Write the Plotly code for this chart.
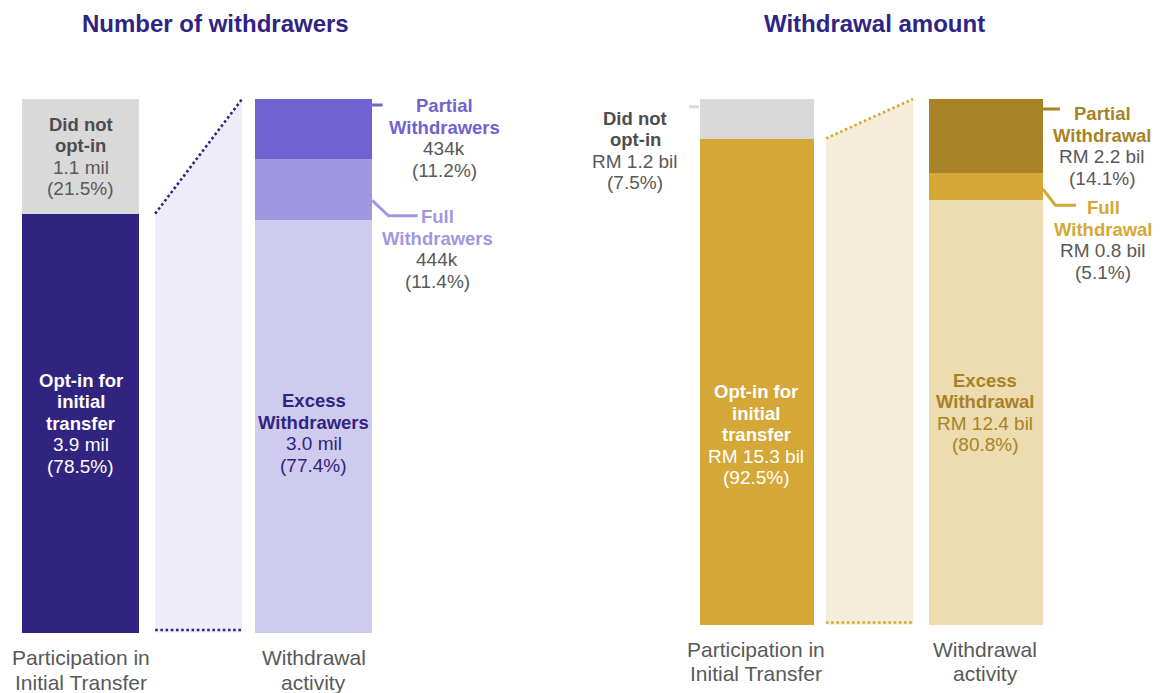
import plotly.graph_objects as go

# ---- data -------------------------------------------------------------
stage_labels = [["Participation in", "Initial Transfer"], ["Withdrawal", "activity"]]

# Number of withdrawers (% of total)
count_optin = 78.5
count_not_optin = 21.5
count_excess = 77.4
count_full = 11.4
count_partial = 11.2
count_text = {
    "not_optin": "1.1 mil", "optin": "3.9 mil",
    "excess": "3.0 mil", "full": "444k", "partial": "434k",
}

# Withdrawal amount (% of total)
amt_optin = 92.5
amt_not_optin = 7.5
amt_excess = 80.8
amt_full = 5.1
amt_partial = 14.1
amt_text = {
    "not_optin": "RM 1.2 bil", "optin": "RM 15.3 bil",
    "excess": "RM 12.4 bil", "full": "RM 0.8 bil", "partial": "RM 2.2 bil",
}

# ---- styling ------------------------------------------------------------
FONT = "Arial, 'Liberation Sans', sans-serif"
TITLE_C = "#2F2483"
GREY_TXT = "#595959"
GREY_BOLD = "#4D4D4D"
GREY_BAR = "#D9D9D9"
BOLD_SIZE = 18.5
VALUE_SIZE = 19

P_DARK, P_PART, P_FULL, P_EXC, P_CONN = "#312480", "#7163CF", "#9F98E0", "#CFCBEE", "#EEECF8"
G_MAIN, G_PART, G_FULL, G_EXC, G_CONN = "#D4A737", "#A88226", "#D4A737", "#EDDCAF", "#F5EDD8"

W, H = 1161, 693
fig = go.Figure()

# x positions: 0 = first bar, 2 = second bar, connector in between
BAR_X = [0, 2]


def bar(xa, ya, x, y, color):
    fig.add_trace(go.Bar(x=[x], y=[y], width=1, marker=dict(color=color, line=dict(width=0)),
                         xaxis=xa, yaxis=ya, showlegend=False, hoverinfo="skip"))


def connector(xa, ya, x0, x1, start, fill, dot):
    fig.add_trace(go.Scatter(x=[x0, x0, x1, x1, x0], y=[0, start, 100, 0, 0], fill="toself",
                             fillcolor=fill, line=dict(width=0), mode="lines",
                             xaxis=xa, yaxis=ya, showlegend=False, hoverinfo="skip"))
    for xs, ys in (([x0, x1], [start, 100]), ([x0, x1], [0.45, 0.45])):
        fig.add_trace(go.Scatter(x=xs, y=ys, mode="lines",
                                 line=dict(color=dot, width=2.6, dash="2.6px,2.6px"),
                                 xaxis=xa, yaxis=ya, showlegend=False, hoverinfo="skip"))


def label(xr, yr, x, y, lines, spacing=21.5):
    n = len(lines)
    for i, (txt, bold, color) in enumerate(lines):
        fig.add_annotation(x=x, y=y, xref=xr, yref=yr, showarrow=False,
                           text=f"<b>{txt}</b>" if bold else txt,
                           font=dict(family=FONT, size=BOLD_SIZE if bold else VALUE_SIZE,
                                     color=color),
                           xanchor="center", yanchor="middle",
                           yshift=((n - 1) / 2 - i) * spacing)


def leader(xa, ya, xs, ys, color):
    fig.add_trace(go.Scatter(x=xs, y=ys, mode="lines", line=dict(color=color, width=3),
                             xaxis=xa, yaxis=ya, showlegend=False, hoverinfo="skip"))


# ---- left panel: number of withdrawers ----------------------------------
bar("x", "y", BAR_X[0], count_optin, P_DARK)
bar("x", "y", BAR_X[0], count_not_optin, GREY_BAR)
bar("x", "y", BAR_X[1], count_excess, P_EXC)
bar("x", "y", BAR_X[1], count_full, P_FULL)
bar("x", "y", BAR_X[1], count_partial, P_PART)
connector("x", "y", 0.64, 1.385, count_optin, P_CONN, P_DARK)

leader("x", "y", [2.5, 2.59], [98.9, 98.9], P_PART)
leader("x", "y", [2.5, 2.64, 2.89], [81.0, 78.1, 78.1], P_FULL)

label("x", "y", BAR_X[0], count_optin + count_not_optin / 2,
      [("Did not", True, GREY_BOLD), ("opt-in", True, GREY_BOLD),
       (count_text["not_optin"], False, GREY_TXT), (f"({count_not_optin}%)", False, GREY_TXT)])
label("x", "y", BAR_X[0], count_optin / 2,
      [("Opt-in for", True, "white"), ("initial", True, "white"), ("transfer", True, "white"),
       (count_text["optin"], False, "white"), (f"({count_optin}%)", False, "white")])
label("x", "y", BAR_X[1], 37.4,
      [("Excess", True, P_DARK), ("Withdrawers", True, P_DARK),
       (count_text["excess"], False, P_DARK), (f"({count_excess}%)", False, P_DARK)])
label("x", "y", 3.12, 92.7,
      [("Partial", True, P_PART), ("Withdrawers", True, P_PART),
       (count_text["partial"], False, GREY_TXT), (f"({count_partial}%)", False, GREY_TXT)])
label("x", "y", 3.06, 71.9,
      [("Full", True, P_FULL), ("Withdrawers", True, P_FULL),
       (count_text["full"], False, GREY_TXT), (f"({count_full}%)", False, GREY_TXT)])

# ---- right panel: withdrawal amount --------------------------------------
bar("x2", "y2", BAR_X[0], amt_optin, G_MAIN)
bar("x2", "y2", BAR_X[0], amt_not_optin, GREY_BAR)
bar("x2", "y2", BAR_X[1], amt_excess, G_EXC)
bar("x2", "y2", BAR_X[1], amt_full, G_FULL)
bar("x2", "y2", BAR_X[1], amt_partial, G_PART)
connector("x2", "y2", 0.607, 1.367, amt_optin, G_CONN, G_MAIN)

leader("x2", "y2", [-0.59, -0.5], [98.5, 98.5], GREY_BAR)
leader("x2", "y2", [2.5, 2.65], [98.1, 98.1], G_PART)
leader("x2", "y2", [2.5, 2.61, 2.79], [82.9, 79.8, 79.8], G_FULL)

label("x2", "y2", -1.06, 90.2,
      [("Did not", True, GREY_BOLD), ("opt-in", True, GREY_BOLD),
       (amt_text["not_optin"], False, GREY_TXT), (f"({amt_not_optin}%)", False, GREY_TXT)])
label("x2", "y2", BAR_X[0], 36.1,
      [("Opt-in for", True, "white"), ("initial", True, "white"), ("transfer", True, "white"),
       (amt_text["optin"], False, "white"), (f"({amt_optin}%)", False, "white")])
label("x2", "y2", BAR_X[1], amt_excess / 2,
      [("Excess", True, G_PART), ("Withdrawal", True, G_PART),
       (amt_text["excess"], False, G_PART), (f"({amt_excess}%)", False, G_PART)])
label("x2", "y2", 3.02, 91.1,
      [("Partial", True, G_PART), ("Withdrawal", True, G_PART),
       (amt_text["partial"], False, GREY_TXT), (f"({amt_partial}%)", False, GREY_TXT)])
label("x2", "y2", 3.03, 73.2,
      [("Full", True, G_FULL), ("Withdrawal", True, G_FULL),
       (amt_text["full"], False, GREY_TXT), (f"({amt_full}%)", False, GREY_TXT)])

# ---- stage labels under the bars -----------------------------------------
for xr, yr, off in (("x", "y", 25.5), ("x2", "y2", 24.5)):
    for bx, lines in zip(BAR_X, stage_labels):
        for i, txt in enumerate(lines):
            fig.add_annotation(x=bx, y=0, xref=xr, yref=yr, showarrow=False, text=txt,
                               font=dict(family=FONT, size=21, color=GREY_TXT),
                               xanchor="center", yanchor="middle", yshift=-(off + 24.5 * i))

# ---- panel titles ---------------------------------------------------------
for x, txt in ((0.1856, "Number of withdrawers"), (0.7532, "Withdrawal amount")):
    fig.add_annotation(x=x, y=1 - 23 / H, xref="paper", yref="paper", showarrow=False,
                       text=f"<b>{txt}</b>", font=dict(family=FONT, size=24, color=TITLE_C),
                       xanchor="center", yanchor="middle")

axis_off = dict(visible=False, showgrid=False, zeroline=False, fixedrange=True)
fig.update_layout(
    width=W, height=H, margin=dict(l=0, r=0, t=0, b=0),
    paper_bgcolor="white", plot_bgcolor="rgba(0,0,0,0)",
    barmode="stack", bargap=0, showlegend=False,
    xaxis=dict(domain=[0, 0.5], range=[-0.690, 4.286], **axis_off),
    yaxis=dict(domain=[0.0797, 0.8648], range=[-1, 101], **axis_off),
    xaxis2=dict(domain=[0.5, 1], range=[-1.537, 3.533], anchor="y2", **axis_off),
    yaxis2=dict(domain=[0.0908, 0.8648], range=[-1, 101], anchor="x2", **axis_off),
)

fig.write_html("out.html")
